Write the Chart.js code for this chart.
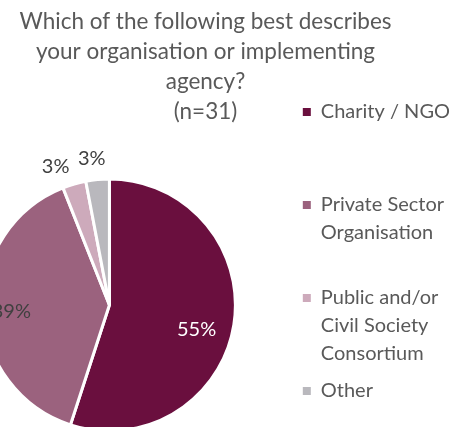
<!DOCTYPE html>
<html>
<head>
<meta charset="utf-8">
<title>Organisation type</title>
<script src="https://cdn.jsdelivr.net/npm/chart.js@4.4.1/dist/chart.umd.min.js"></script>
<style>
    html, body { margin: 0; padding: 0; background: #fff; overflow: hidden; }
    #wrap { position: relative; width: 450px; height: 427px; overflow: hidden; }
    #OrgChart { position: absolute; left: -75px; top: 0; }
</style>
</head>
<body>
<div id="wrap"><canvas id="OrgChart" width="535" height="517"></canvas></div>
<script>
const titleLines = ['Which of the following best describes', 'your organisation or implementing', 'agency?', '(n=31)'];
const categories = [
    ['Charity / NGO'],
    ['Private Sector', 'Organisation'],
    ['Public and/or', 'Civil Society', 'Consortium'],
    ['Other']
];
const shares = [55, 39, 3, 3];

// where each percentage sits: fraction of the radius, plus a small turn (deg) off the slice middle
const labelSpots = [
    { r: 0.72, turn: 7 },
    { r: 0.78, turn: -2 },
    { r: 1.18, turn: -5 },
    { r: 1.17, turn: -1.5 }
];

Chart.defaults.font.family = 'Lato';

const sliceLabels = {
    id: 'sliceLabels',
    afterDatasetsDraw(chart, args, opts) {
        const ctx = chart.ctx;
        const meta = chart.getDatasetMeta(0);
        const values = chart.data.datasets[0].data;
        ctx.save();
        ctx.font = opts.font;
        ctx.textAlign = 'center';
        ctx.textBaseline = 'middle';
        meta.data.forEach((arc, i) => {
            const p = arc.getProps(['x', 'y', 'startAngle', 'endAngle', 'outerRadius'], true);
            const spot = labelSpots[i];
            const a = (p.startAngle + p.endAngle) / 2 + spot.turn * Math.PI / 180;
            const r = p.outerRadius * spot.r;
            ctx.fillStyle = opts.colors[i];
            ctx.fillText(values[i] + '%', p.x + Math.cos(a) * r, p.y + Math.sin(a) * r);
        });
        ctx.restore();
    }
};

// keep the title centred on the whole figure rather than on plot + legend
const titleNudge = {
    id: 'titleNudge',
    afterLayout(chart, args, opts) {
        const t = chart.titleBlock;
        t.left += opts.shift;
        t.right += opts.shift;
    }
};

const pie_data = {
    labels: categories,
    datasets: [{
        data: shares,
        backgroundColor: ['#6a0f3e', '#9b627e', '#cdaabb', '#b9b8bd'],
        borderColor: '#ffffff',
        borderWidth: 3
    }]
};

const configPie = {
    type: 'pie',
    data: pie_data,
    options: {
        responsive: false,
        animation: false,
        radius: 126,
        layout: { padding: 0 },
        plugins: {
            title: {
                display: true,
                text: titleLines,
                color: '#595959',
                font: { size: 22.5, weight: 'normal', lineHeight: '30px' },
                padding: { top: 7, bottom: -34 }
            },
            legend: {
                position: 'right',
                align: 'start',
                fullSize: false,
                labels: {
                    boxWidth: 8,
                    boxHeight: 8,
                    padding: 9,
                    color: '#595959',
                    font: { size: 20, lineHeight: '28px' },
                    generateLabels(chart) {
                        const items = Chart.overrides.doughnut.plugins.legend.labels.generateLabels(chart);
                        // pad every entry to three lines so the entries sit evenly apart
                        return items.map(item => Object.assign(item, {
                            text: item.text.concat(['', '', '']).slice(0, 3),
                            lineWidth: 0
                        }));
                    }
                }
            },
            tooltip: { enabled: false },
            sliceLabels: {
                font: '20px Lato',
                colors: ['#ffffff', '#404040', '#404040', '#404040']
            },
            titleNudge: { shift: 13 }
        }
    },
    plugins: [sliceLabels, titleNudge]
};

const OrgChart = new Chart(
    document.getElementById('OrgChart'),
    configPie
);
</script>
</body>
</html>
